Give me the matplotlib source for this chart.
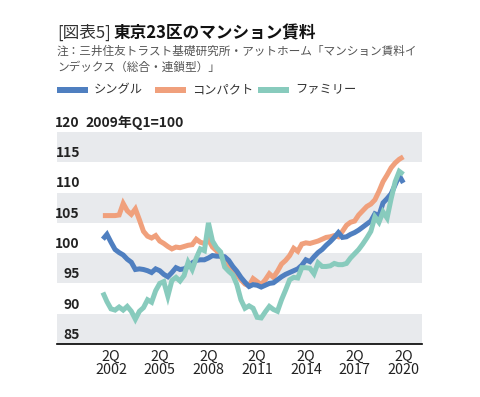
import matplotlib
matplotlib.use("Agg")
import matplotlib.pyplot as plt
import matplotlib.transforms as mtransforms

plt.rcParams['font.family'] = ['Noto Sans CJK JP', 'DejaVu Sans']

# quarters from 2001Q4 to 2020Q2, index 0 = 2002Q2
quarter_index = list(range(-2, 73))

single = [102.3, 103.1, 101.8, 100.6, 100.1, 99.7, 99.0, 98.5, 97.3, 97.4,
          97.3, 97.1, 96.8, 97.4, 97.1, 96.5, 96.1, 96.8, 97.6, 97.3,
          97.4, 97.8, 98.4, 98.8, 98.9, 98.9, 99.2, 99.6, 99.5, 99.5,
          99.4, 98.8, 97.8, 97.0, 96.0, 95.2, 94.5, 94.8, 94.7, 94.4,
          94.7, 95.0, 95.1, 95.6, 96.1, 96.5, 96.8, 97.1, 97.4, 98.0,
          98.9, 98.6, 99.4, 100.1, 100.6, 101.3, 101.9, 102.6, 103.4, 102.6,
          102.7, 103.1, 103.4, 103.8, 104.3, 104.8, 105.3, 106.5, 106.2, 108.3,
          109.0, 109.8, 111.3, 112.8, 111.6]

compact = [106.2, 106.2, 106.2, 106.2, 106.3, 108.2, 107.0, 106.4, 107.3, 105.5,
           103.6, 102.8, 102.5, 102.9, 102.0, 101.6, 101.1, 100.7, 101.0, 100.9,
           101.1, 101.3, 101.4, 102.3, 101.8, 101.6, 102.2, 101.0, 100.4, 99.5,
           98.6, 97.8, 97.2, 96.5, 95.6, 94.9, 94.6, 95.8, 95.3, 94.8,
           95.6, 96.6, 96.0, 97.0, 98.2, 98.8, 99.6, 100.8, 100.3, 101.5,
           101.7, 101.6, 101.8, 102.0, 102.3, 102.6, 102.7, 102.9, 102.7, 103.6,
           104.6, 105.1, 105.3, 106.3, 107.0, 107.7, 108.1, 108.8, 110.2, 111.8,
           112.9, 114.1, 114.9, 115.5, 115.9]

family = [93.5, 92.0, 90.8, 90.6, 91.1, 90.6, 91.2, 90.4, 89.1, 90.4,
          91.0, 92.3, 91.9, 93.8, 95.0, 95.3, 92.9, 95.5, 96.0, 95.4,
          96.3, 98.5, 97.3, 99.2, 100.7, 100.4, 105.0, 102.0, 100.9, 100.2,
          97.7, 97.0, 96.4, 94.8, 92.3, 90.9, 91.3, 90.9, 89.4, 89.3,
          90.3, 91.2, 90.7, 90.4, 92.3, 93.9, 95.6, 96.0, 95.9, 97.6,
          97.6, 97.5, 96.6, 98.4, 97.8, 97.8, 97.9, 98.3, 98.1, 98.1,
          98.3, 99.2, 99.9, 100.6, 101.5, 102.5, 103.6, 106.0, 105.1, 106.8,
          105.8, 109.0, 111.8, 113.5, 113.0]

series_names = ["シングル", "コンパクト", "ファミリー"]
colors = ["#4f7fc0", "#f0a07c", "#88cbbd"]

tick_pos = [0, 12, 24, 36, 48, 60, 72]
tick_labels = ["2Q\n2002", "2Q\n2005", "2Q\n2008", "2Q\n2011", "2Q\n2014", "2Q\n2017", "2Q\n2020"]
y_ticks = [85, 90, 95, 100, 105, 110, 115, 120]

W, H = 481, 397
fig = plt.figure(figsize=(W / 100, H / 100), dpi=100)
ax = fig.add_axes([57 / W, 1 - 344 / H, 365 / W, 212 / H])
ax.set_xlim(-13.3, 76.6)
ax.set_ylim(85, 120)

for lo in [85, 95, 105, 115]:
    ax.axhspan(lo, lo + 5, color="#e8eaed", lw=0, zorder=0)

# draw order: compact (bottom), single, family (top)
for z, (i, data) in enumerate([(1, compact), (0, single), (2, family)]):
    ax.plot(quarter_index, data, color=colors[i], lw=3.6, solid_joinstyle="miter",
            solid_capstyle="butt", zorder=2 + z)

for s in ["top", "right", "left"]:
    ax.spines[s].set_visible(False)
ax.spines["bottom"].set_color("black")
ax.spines["bottom"].set_linewidth(1.2)
ax.set_yticks([])
ax.set_xticks(tick_pos)
ax.set_xticklabels(tick_labels, fontsize=10.3, color="#222222", linespacing=0.95)
ax.tick_params(axis="x", length=0, pad=4)

blend = mtransforms.blended_transform_factory(ax.transAxes, ax.transData)
lab_tr = mtransforms.offset_copy(blend, fig=fig, y=1.5, units="points")
for v in y_ticks:
    ax.text((80 - 57) / 365, v, str(v), transform=lab_tr,
            ha="right", va="bottom", fontsize=10, fontweight="bold", color="#222222", zorder=5)
ax.text((85 - 57) / 365, 120, "2009年Q1=100", transform=lab_tr,
        ha="left", va="bottom", fontsize=10, fontweight="bold", color="#222222")

# title
t1 = fig.text(57 / W, 1 - 38 / H, "[図表5]", fontsize=12, color="#333333", ha="left", va="baseline")
fig.canvas.draw()
r = fig.canvas.get_renderer()
bb = t1.get_window_extent(r)
fig.text((bb.x1 + 3) / W, 1 - 38 / H, "東京23区のマンション賃料", fontsize=12, fontweight="bold",
         color="#111111", ha="left", va="baseline")

fig.text(57 / W, 1 - 55 / H, "注：三井住友トラスト基礎研究所・アットホーム「マンション賃料イ",
         fontsize=8.4, color="#555555", ha="left", va="baseline")
fig.text(57 / W, 1 - 71 / H, "ンデックス（総合・連鎖型）」",
         fontsize=8.4, color="#555555", ha="left", va="baseline")

# legend
leg_x = [57, 155, 258]
for i, name in enumerate(series_names):
    x0 = leg_x[i]
    fig.patches.append(plt.Rectangle((x0 / W, 1 - 93 / H), 31 / W, 6 / H, transform=fig.transFigure,
                                     color=colors[i], lw=0))
    fig.text((x0 + 37) / W, 1 - 90 / H, name, fontsize=8.8, color="#333333", ha="left", va="center")

fig.savefig("out.png", dpi=100)
